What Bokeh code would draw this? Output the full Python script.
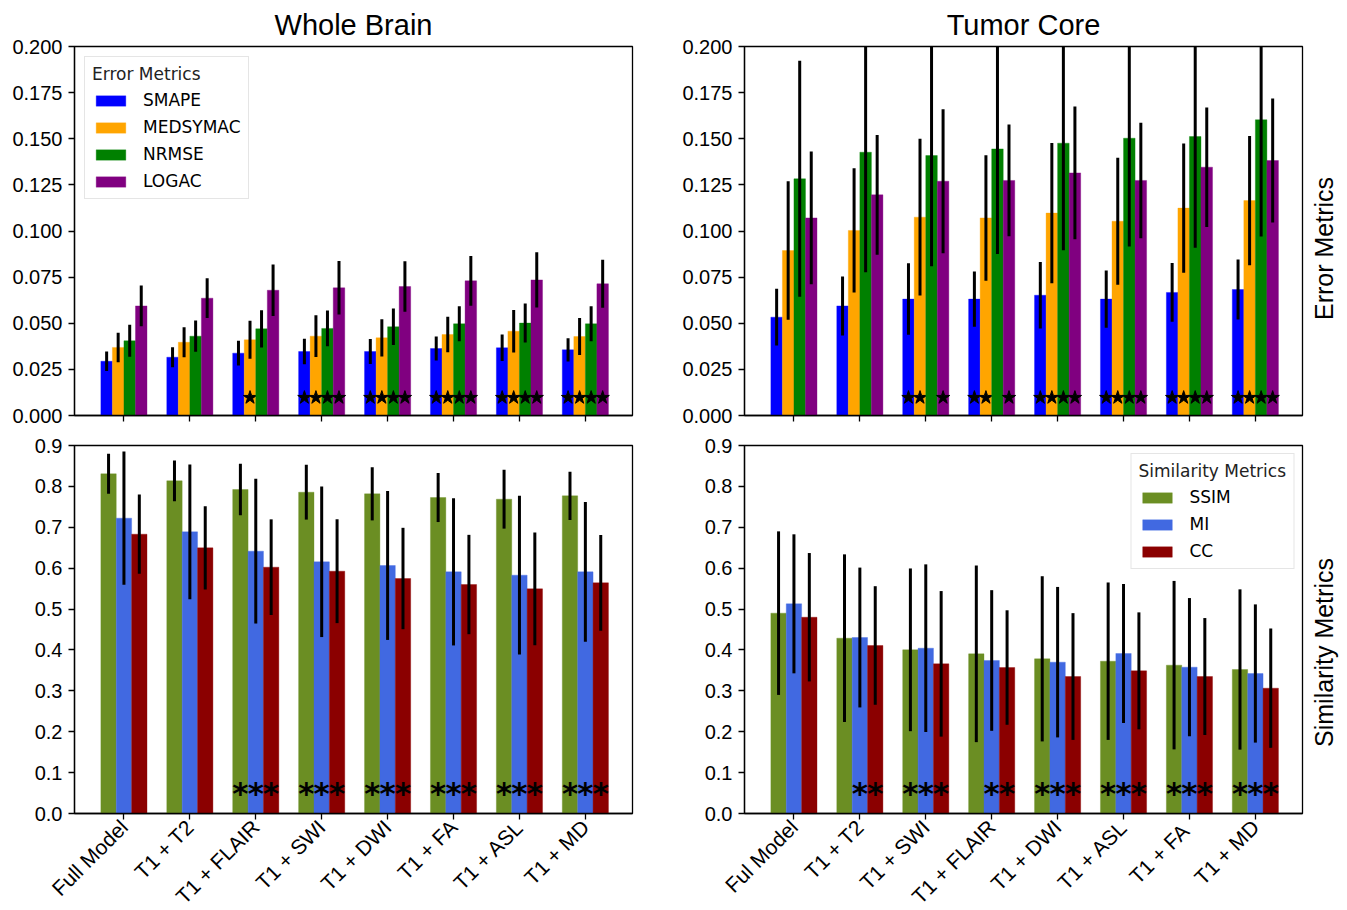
import math
from bokeh.plotting import figure
from bokeh.models import Range1d, FixedTicker, Legend, LegendItem, NumeralTickFormatter
from bokeh.layouts import row, column
from bokeh.embed import file_html
from bokeh.resources import INLINE
from bokeh.core.properties import value

# ---------------- data ----------------
wb_labels = ["Full Model", "T1 + T2", "T1 + FLAIR", "T1 + SWI", "T1 + DWI", "T1 + FA", "T1 + ASL", "T1 + MD"]
tc_labels = ["Ful Model", "T1 + T2", "T1 + SWI", "T1 + FLAIR", "T1 + DWI", "T1 + ASL", "T1  + FA", "T1 + MD"]

err_metrics = ["SMAPE", "MEDSYMAC", "NRMSE", "LOGAC"]
err_colors = ["#0000ff", "#ffa500", "#008000", "#800080"]
sim_metrics = ["SSIM", "MI", "CC"]
sim_colors = ["#6b8e23", "#4169e1", "#8b0000"]

# Whole Brain - error metrics (mean, sd, significance)
wb_smape = [0.0294, 0.0316, 0.0338, 0.0347, 0.0347, 0.0363, 0.0367, 0.0356]
wb_smape_sd = [0.0053, 0.0054, 0.0067, 0.0069, 0.0068, 0.0065, 0.0072, 0.0063]
wb_medsymac = [0.0369, 0.0397, 0.0410, 0.0430, 0.0421, 0.0439, 0.0457, 0.0428]
wb_medsymac_sd = [0.0080, 0.0081, 0.0103, 0.0113, 0.0101, 0.0096, 0.0115, 0.0100]
wb_nrmse = [0.0405, 0.0430, 0.0470, 0.0472, 0.0481, 0.0497, 0.0501, 0.0497]
wb_nrmse_sd = [0.0087, 0.0085, 0.0101, 0.0097, 0.0099, 0.0095, 0.0106, 0.0095]
wb_logac = [0.0594, 0.0636, 0.0679, 0.0692, 0.0699, 0.0730, 0.0735, 0.0714]
wb_logac_sd = [0.0110, 0.0108, 0.0140, 0.0145, 0.0137, 0.0135, 0.0150, 0.0130]
wb_smape_sig = [0, 0, 0, 1, 1, 1, 1, 1]
wb_medsymac_sig = [0, 0, 1, 1, 1, 1, 1, 1]
wb_nrmse_sig = [0, 0, 0, 1, 1, 1, 1, 1]
wb_logac_sig = [0, 0, 0, 1, 1, 1, 1, 1]

# Tumor Core - error metrics
tc_smape = [0.0533, 0.0594, 0.0631, 0.0631, 0.0652, 0.0631, 0.0667, 0.0683]
tc_smape_sd = [0.0154, 0.0160, 0.0194, 0.0150, 0.0180, 0.0155, 0.0159, 0.0163]
tc_medsymac = [0.0894, 0.1003, 0.1075, 0.1071, 0.1097, 0.1053, 0.1124, 0.1165]
tc_medsymac_sd = [0.0375, 0.0337, 0.0425, 0.0340, 0.0380, 0.0344, 0.0350, 0.0350]
tc_nrmse = [0.1283, 0.1427, 0.1409, 0.1445, 0.1476, 0.1503, 0.1512, 0.1603]
tc_nrmse_sd = [0.0640, 0.0650, 0.0600, 0.0570, 0.0580, 0.0587, 0.0603, 0.0633]
tc_logac = [0.1071, 0.1196, 0.1270, 0.1274, 0.1315, 0.1274, 0.1346, 0.1382]
tc_logac_sd = [0.0360, 0.0325, 0.0390, 0.0303, 0.0360, 0.0313, 0.0324, 0.0336]
tc_smape_sig = [0, 0, 1, 1, 1, 1, 1, 1]
tc_medsymac_sig = [0, 0, 1, 1, 1, 1, 1, 1]
tc_nrmse_sig = [0, 0, 0, 0, 1, 1, 1, 1]
tc_logac_sig = [0, 0, 1, 1, 1, 1, 1, 1]

# Whole Brain - similarity metrics
wb_ssim = [0.8307, 0.8136, 0.7924, 0.7858, 0.7818, 0.7728, 0.7687, 0.7769]
wb_ssim_sd = [0.049, 0.050, 0.063, 0.067, 0.065, 0.060, 0.072, 0.059]
wb_mi = [0.7223, 0.6888, 0.6416, 0.6155, 0.6065, 0.5910, 0.5829, 0.5910]
wb_mi_sd = [0.163, 0.165, 0.177, 0.184, 0.182, 0.180, 0.194, 0.171]
wb_cc = [0.6831, 0.6497, 0.6024, 0.5926, 0.5747, 0.5600, 0.5494, 0.5641]
wb_cc_sd = [0.097, 0.102, 0.117, 0.127, 0.124, 0.1215, 0.138, 0.117]
wb_ssim_sig = [0, 0, 1, 1, 1, 1, 1, 1]
wb_mi_sig = [0, 0, 1, 1, 1, 1, 1, 1]
wb_cc_sig = [0, 0, 1, 1, 1, 1, 1, 1]

# Tumor Core - similarity metrics
tc_ssim = [0.4900, 0.4288, 0.4003, 0.3905, 0.3783, 0.3725, 0.3628, 0.3522]
tc_ssim_sd = [0.200, 0.205, 0.199, 0.216, 0.202, 0.1925, 0.206, 0.196]
tc_mi = [0.5128, 0.4304, 0.4043, 0.3742, 0.3701, 0.3913, 0.3579, 0.3424]
tc_mi_sd = [0.170, 0.171, 0.205, 0.172, 0.184, 0.170, 0.169, 0.169]
tc_cc = [0.4800, 0.4109, 0.3660, 0.3570, 0.3350, 0.3489, 0.3350, 0.3065]
tc_cc_sd = [0.157, 0.145, 0.178, 0.140, 0.155, 0.143, 0.143, 0.146]
tc_ssim_sig = [0, 0, 1, 0, 1, 1, 1, 1]
tc_mi_sig = [0, 1, 1, 1, 1, 1, 1, 1]
tc_cc_sig = [0, 1, 1, 1, 1, 1, 1, 1]

err_ticks = [0.0, 0.025, 0.05, 0.075, 0.1, 0.125, 0.15, 0.175, 0.2]
sim_ticks = [0.0, 0.1, 0.2, 0.3, 0.4, 0.5, 0.6, 0.7, 0.8, 0.9]

# ---------------- styling ----------------
FONT = "Liberation Sans"
LFONT = "DejaVu Sans"
FW = 558


def make_panel(series, sds, sigs, colors, names, y_end, ticks, fmt, labels,
               show_labels, border_l, border_r, border_t, border_b, frame_h,
               title=None, legend_title=None, legend_loc=None, legend_margin=10,
               top_stars=True):
    p = figure(frame_width=FW, frame_height=frame_h,
               x_range=Range1d(-0.75, 7.715), y_range=Range1d(0, y_end),
               output_backend="svg", toolbar_location=None,
               min_border_left=border_l, min_border_right=border_r,
               min_border_top=border_t, min_border_bottom=border_b)
    p.background_fill_color = "white"
    p.border_fill_color = "white"
    p.outline_line_color = "black"
    p.outline_line_width = 1.3
    p.xgrid.visible = False
    p.ygrid.visible = False
    if title:
        p.title.text = title
        p.title.align = "center"
        p.title.text_font = FONT
        p.title.text_font_size = "29px"
        p.title.text_font_style = "normal"
        p.title.text_color = "black"
        p.title.standoff = 11

    n = len(series)
    w = 0.7 / n
    items = []
    for i in range(n):
        off = (i - (n - 1) / 2.0) * w
        xs = [k + off for k in range(len(series[i]))]
        r = p.vbar(x=xs, top=series[i], bottom=0, width=w,
                   fill_color=colors[i], line_color=colors[i], line_alpha=0.35, line_width=1)
        items.append(LegendItem(label=names[i], renderers=[r]))
        lo = [m - s for m, s in zip(series[i], sds[i])]
        hi = [m + s for m, s in zip(series[i], sds[i])]
        p.segment(x0=xs, y0=lo, x1=xs, y1=hi, line_color="black", line_width=3)
        sx = [x for x, s in zip(xs, sigs[i]) if s]
        if top_stars:
            sy = [0.0097] * len(sx)
            p.scatter(x=sx, y=sy, marker="star", size=14, fill_color="black",
                      line_color="black")
        else:
            sy = [0.05] * len(sx)
            p.text(x=sx, y=sy, text=["*"] * len(sx), text_font=value(LFONT),
                   text_font_size="31px", text_font_style="bold", text_align="center",
                   text_baseline="alphabetic", text_color="black")

    p.xaxis.ticker = FixedTicker(ticks=list(range(len(labels))))
    p.xaxis.major_label_overrides = {k: lab for k, lab in enumerate(labels)}
    p.yaxis.ticker = FixedTicker(ticks=ticks)
    p.yaxis.formatter = NumeralTickFormatter(format=fmt)
    for ax in (p.xaxis, p.yaxis):
        ax.major_tick_in = 0
        ax.major_tick_out = 6
        ax.minor_tick_line_color = None
        ax.major_tick_line_color = "black"
        ax.major_tick_line_width = 1.3
        ax.axis_line_color = "black"
        ax.axis_line_width = 1.3
        ax.major_label_text_font = FONT
        ax.major_label_text_color = "black"
        ax.major_label_text_font_size = "20px"
    p.yaxis.major_label_standoff = 6
    if show_labels:
        p.xaxis.major_label_orientation = math.pi / 4
        p.xaxis.major_label_standoff = 4
        p.xaxis.major_label_text_font_size = "21px"
    else:
        p.xaxis.major_label_text_font_size = "1px"
        p.xaxis.major_label_text_color = None
        p.xaxis.major_label_standoff = 0

    if legend_title:
        lg = Legend(items=items, location=legend_loc, title=legend_title)
        lg.margin = legend_margin
        lg.padding = 7
        lg.spacing = 7
        lg.glyph_width = 37
        lg.glyph_height = 13
        lg.label_height = 20
        lg.label_standoff = 14
        lg.label_text_font = LFONT
        lg.label_text_font_size = "17px"
        lg.label_text_color = "black"
        lg.title_text_font = LFONT
        lg.title_text_font_size = "17px"
        lg.title_text_font_style = "normal"
        lg.title_text_color = "#222222"
        lg.title_standoff = 6
        lg.border_line_color = "#cccccc"
        lg.border_line_width = 1
        lg.background_fill_alpha = 0.85
        p.add_layout(lg)
    return p


tl = make_panel([wb_smape, wb_medsymac, wb_nrmse, wb_logac],
                [wb_smape_sd, wb_medsymac_sd, wb_nrmse_sd, wb_logac_sd],
                [wb_smape_sig, wb_medsymac_sig, wb_nrmse_sig, wb_logac_sig],
                err_colors, err_metrics, 0.2, err_ticks, "0.000", wb_labels, False,
                74, 10, 46, 15, 369, title="Whole Brain",
                legend_title="Error Metrics", legend_loc="top_left", legend_margin=10)
tr = make_panel([tc_smape, tc_medsymac, tc_nrmse, tc_logac],
                [tc_smape_sd, tc_medsymac_sd, tc_nrmse_sd, tc_logac_sd],
                [tc_smape_sig, tc_medsymac_sig, tc_nrmse_sig, tc_logac_sig],
                err_colors, err_metrics, 0.2, err_ticks, "0.000", tc_labels, False,
                102, 6, 46, 15, 369, title="Tumor Core")
bl = make_panel([wb_ssim, wb_mi, wb_cc], [wb_ssim_sd, wb_mi_sd, wb_cc_sd],
                [wb_ssim_sig, wb_mi_sig, wb_cc_sig],
                sim_colors, sim_metrics, 0.9, sim_ticks, "0.0", wb_labels, True,
                74, 10, 15, 94, 368, top_stars=False)
br = make_panel([tc_ssim, tc_mi, tc_cc], [tc_ssim_sd, tc_mi_sd, tc_cc_sd],
                [tc_ssim_sig, tc_mi_sig, tc_cc_sig],
                sim_colors, sim_metrics, 0.9, sim_ticks, "0.0", tc_labels, True,
                102, 6, 15, 94, 368, legend_title="Similarity Metrics",
                legend_loc="top_right", legend_margin=8, top_stars=False)

# side labels (page-pixel coordinates)
H_TOTAL = 46 + 369 + 15 + 15 + 368 + 94
side = figure(width=31, height=H_TOTAL, x_range=Range1d(0, 1),
              y_range=Range1d(H_TOTAL, 0), output_backend="svg",
              toolbar_location=None, min_border=0)
side.axis.visible = False
side.grid.visible = False
side.outline_line_color = None
side.text(x=[0.5, 0.5], y=[248, 652], text=["Error Metrics", "Similarity Metrics"],
          angle=[math.pi / 2, math.pi / 2], text_font=value(FONT),
          text_font_size="25px", text_align="center", text_baseline="middle",
          text_color="black")

layout = row(column(tl, bl), column(tr, br), side)
open("out.html", "w").write(file_html(layout, INLINE))
